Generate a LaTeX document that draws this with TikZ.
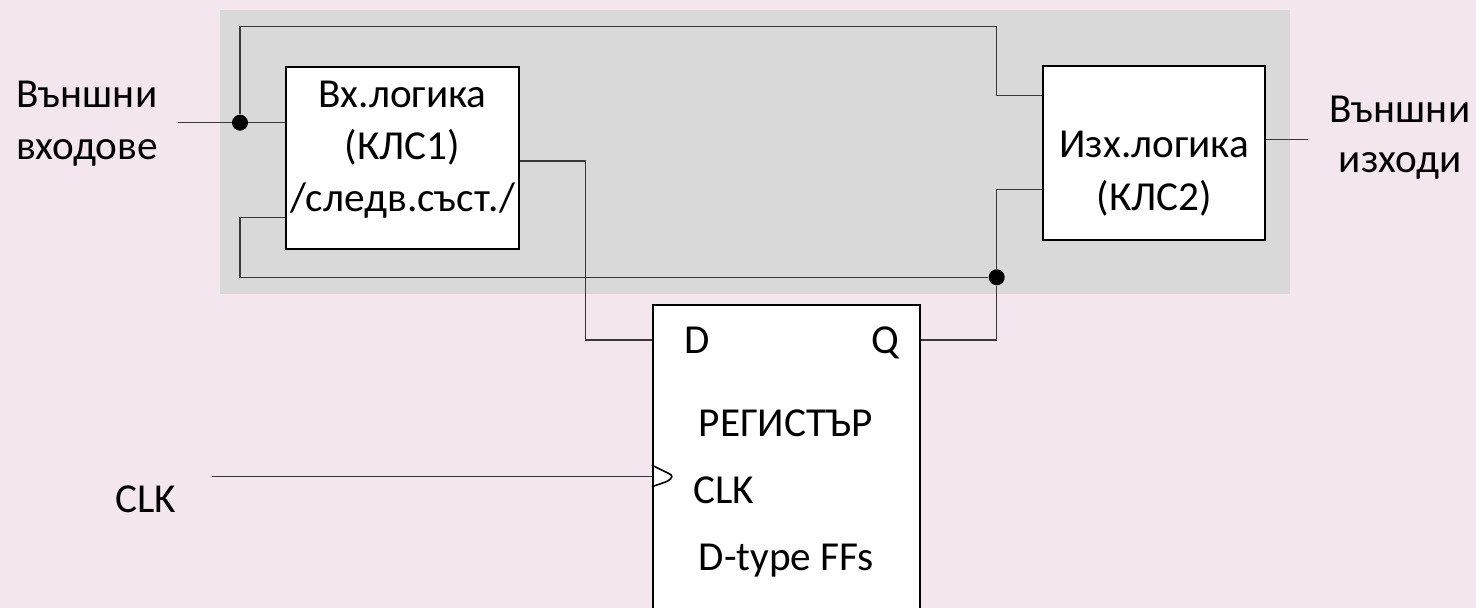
\documentclass[tikz,border=0pt]{standalone}
\usepackage{fontspec}
\setmainfont{Carlito}
\usetikzlibrary{calc}
\definecolor{bgpink}{RGB}{243,230,238}
\definecolor{panelgray}{RGB}{217,217,217}
\definecolor{wirecol}{RGB}{55,55,55}
\tikzset{
  txt/.style={inner sep=0pt, anchor=base, font=\fontsize{20.6}{26}\selectfont},
  txtl/.style={txt, anchor=base west},
  block/.style={draw=black, line width=1pt, fill=white, inner sep=0pt},
  wire/.style={draw=wirecol, line width=0.7pt},
  dot/.style={circle, fill=black, inner sep=0pt, minimum size=8pt},
}
\begin{document}
\begin{tikzpicture}[x=0.5pt, y=-0.5pt]
  % page area and background
  \clip (0,0) rectangle (1476,608);
  \fill[bgpink] (0,0) rectangle (1476,608);
  \fill[panelgray] (220,10) rectangle (1290,294);

  % logic blocks and register
  \node[block, minimum width=116.5pt, minimum height=91pt] (vx) at (402.5,158.3) {};
  \node[block, minimum width=111pt, minimum height=87.2pt] (iz) at (1154.2,152.9) {};
  \node[block, minimum width=133.6pt, minimum height=180pt] (reg) at (786.4,485) {};

  % block labels
  \node[txt] (vx1) at (402.5,107.3) {Вх.логика};
  \node[txt] (vx2) at (402.5,160) {(КЛС1)};
  \node[txt] (vx3) at (402.5,212) {/следв.съст./};
  \node[txt] (iz1) at (1154.2,158) {Изх.логика};
  \node[txt] (iz2) at (1154.2,211) {(КЛС2)};
  \node[txtl] (rd) at (684,354) {D};
  \node[txtl] (rq) at (871,354) {Q};
  \node[txtl] (rname) at (698.3,437) {РЕГИСТЪР};
  \node[txtl] (rclk) at (692.7,503) {CLK};
  \node[txtl] (rtype) at (698.3,570) {D-type FFs};

  % external labels
  \node[txt] (inA) at (87,108) {Външни};
  \node[txt] (inB) at (87,160) {входове};
  \node[txt] (outA) at (1400,123) {Външни};
  \node[txt] (outB) at (1400,173) {изходи};
  \node[txt] (clk) at (146,512) {CLK};

  % junctions and wire corners
  \node[dot] (j1) at (240,122.7) {};
  \node[dot] (j2) at (996.7,277.3) {};
  \coordinate (inL) at (178,122.7);
  \coordinate (tL) at (240,26.7);
  \coordinate (tR) at (996.7,26.7);
  \coordinate (c6) at (996.7,95.3);
  \coordinate (c1) at (585.7,161);
  \coordinate (c2) at (585.7,340);
  \coordinate (c3) at (240,217.3);
  \coordinate (fbL) at (240,277.3);
  \coordinate (c4) at (996.7,189.3);
  \coordinate (c5) at (996.7,340);
  \coordinate (outR) at (1308,139.3);
  \coordinate (clkL) at (212,476.7);

  % wiring
  \draw[wire] (inL) -- (j1) -- (vx.west |- j1);
  \draw[wire] (j1) -- (tL) -- (tR) -- (c6) -- (iz.west |- c6);
  \draw[wire] (vx.east |- c1) -- (c1) -- (c2) -- (reg.west |- c2);
  \draw[wire] (vx.west |- c3) -- (c3) -- (fbL) -- (j2);
  \draw[wire] (j2) -- (c4) -- (iz.west |- c4);
  \draw[wire] (j2) -- (c5) -- (reg.east |- c5);
  \draw[wire] (iz.east |- outR) -- (outR);
  \draw[wire] (clkL) -- (reg.west |- clkL);

  % clock input marker
  \draw[line width=0.8pt, line join=round]
    ($(reg.west |- clkL)+(0,-11.7)$) .. controls ($(reg.west |- clkL)+(12,-5)$) and ($(reg.west |- clkL)+(22,-2)$) .. ($(reg.west |- clkL)+(20,0)$)
    .. controls ($(reg.west |- clkL)+(18,4)$) .. ($(reg.west |- clkL)+(0,10)$);
\end{tikzpicture}
\end{document}
